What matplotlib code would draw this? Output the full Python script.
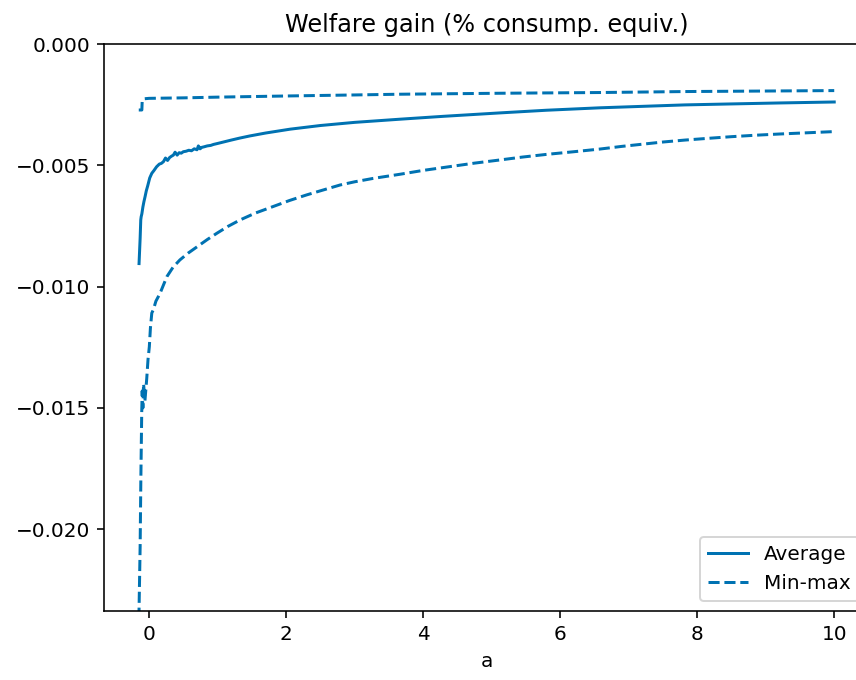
import matplotlib
matplotlib.use("Agg")
import matplotlib.pyplot as plt

# Average welfare gain by asset level a
avg_a = [-0.146, -0.13, -0.121, -0.115, -0.105, -0.09, -0.075, -0.058, -0.04, -0.02,
         -0.01, 0.01, 0.04, 0.07, 0.11, 0.15, 0.18, 0.21, 0.24, 0.27,
         0.30, 0.33, 0.355, 0.38, 0.41, 0.44, 0.47, 0.50, 0.54, 0.58,
         0.62, 0.66, 0.70, 0.72, 0.745, 0.77, 0.80, 0.85, 0.90, 0.94,
         1.0, 1.1, 1.2, 1.32, 1.47, 1.7, 2.06, 2.5, 3.0, 3.66,
         4.3, 5.12, 5.8, 6.58, 7.3, 7.82, 8.5, 9.2, 10.0]
avg_val = [-0.00905, -0.00800, -0.00725, -0.00712, -0.00700, -0.00672, -0.00650, -0.00629, -0.00605, -0.00585,
           -0.00574, -0.00552, -0.00533, -0.00522, -0.00506, -0.00495, -0.00492, -0.00485, -0.00470, -0.00480,
           -0.00468, -0.00462, -0.00458, -0.00446, -0.00458, -0.00448, -0.00450, -0.00444, -0.00442, -0.00438,
           -0.00440, -0.00432, -0.00436, -0.00420, -0.00432, -0.00426, -0.00424, -0.00420, -0.00418, -0.00414,
           -0.00410, -0.00403, -0.00396, -0.00388, -0.00379, -0.00367, -0.00351, -0.00336, -0.00323, -0.00310,
           -0.00298, -0.00284, -0.00273, -0.00263, -0.00256, -0.00251, -0.00247, -0.00243, -0.00239]

# Minimum welfare gain
min_a = [-0.15, -0.146, -0.13, -0.12, -0.107, -0.10, -0.09, -0.08, -0.06, -0.034,
         -0.015, 0.004, 0.02, 0.04, 0.063, 0.10, 0.16, 0.26, 0.35, 0.45,
         0.57, 0.70, 0.85, 0.99, 1.15, 1.33, 1.55, 1.81, 2.05, 2.30,
         2.55, 2.79, 3.0, 3.27, 3.66, 4.0, 4.4, 4.75, 5.12, 5.45,
         5.8, 6.2, 6.58, 6.9, 7.2, 7.5, 7.82, 8.15, 8.5, 8.85,
         9.2, 9.6, 10.0]
min_val = [-0.0250, -0.0233, -0.0207, -0.0180, -0.0152, -0.0143, -0.0150, -0.0140, -0.0147, -0.0138,
           -0.0130, -0.01248, -0.0117, -0.01109, -0.01095, -0.01060, -0.01028, -0.00959, -0.00920, -0.00890,
           -0.00862, -0.00836, -0.00806, -0.00780, -0.00752, -0.00725, -0.00697, -0.00670, -0.00645, -0.00622,
           -0.00601, -0.00581, -0.00568, -0.00554, -0.00537, -0.00521, -0.00505, -0.00491, -0.00478, -0.00466,
           -0.00455, -0.00444, -0.00433, -0.00422, -0.00413, -0.00404, -0.00396, -0.00389, -0.00382, -0.00376,
           -0.00371, -0.00366, -0.00361]

# Maximum welfare gain
max_a = [-0.15, -0.105, -0.10, -0.08, 0.0, 0.5, 1.0, 2.06, 3.0, 3.66,
         5.12, 6.58, 7.82, 10.0]
max_val = [-0.00272, -0.00272, -0.00234, -0.00226, -0.00224, -0.00222, -0.00219, -0.00214, -0.00210, -0.00207,
           -0.00203, -0.00200, -0.00196, -0.00192]

color = "#0072B2"

fig = plt.figure(figsize=(856 / 144, 680 / 144), dpi=144)
ax = fig.add_axes([104 / 856, 1 - 611 / 680, (869 - 104) / 856, (611 - 44) / 680])

ax.plot(avg_a, avg_val, color=color, linestyle="-", label="Average")
ax.plot(min_a, min_val, color=color, linestyle="--", label="Min-max")
ax.plot(max_a, max_val, color=color, linestyle="--")

ax.set_ylim(-0.02337, 0.0)
ax.set_title("Welfare gain (% consump. equiv.)")
ax.set_xlabel("a")
ax.legend(loc="lower right")

fig.savefig("out.png", dpi=144)
